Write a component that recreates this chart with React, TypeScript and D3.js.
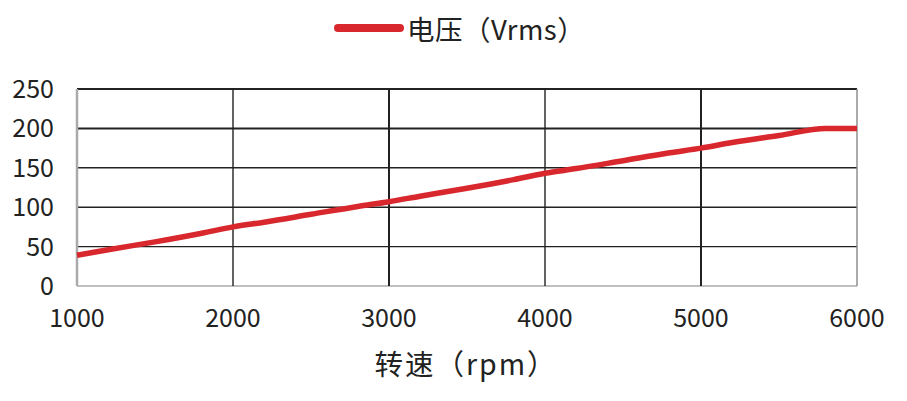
import React from 'react';
import * as d3 from 'd3';
import { useRef, useEffect } from 'react';

const speeds = [1000, 1200, 1500, 1800, 2000, 2200, 2500, 2800, 3000, 3200, 3500, 3800, 4000, 4200, 4500, 4800, 5000, 5200, 5500, 5800, 6000];
const voltage = [39, 46, 56, 67, 75, 81, 91, 101, 107, 114, 124, 135, 143, 149, 159, 169, 175, 182, 191, 200, 200];
const xTicks = [1000, 2000, 3000, 4000, 5000, 6000];
const yTicks = [0, 50, 100, 150, 200, 250];
const seriesName = '电压（Vrms）';
const xTitle = '转速（rpm）';

const W = 907;
const H = 401;
const font = '"Noto Sans CJK SC", "Noto Sans", sans-serif';

function Chart() {
  const root = useRef<SVGSVGElement>(null);

  useEffect(() => {
    const svg = d3.select(root.current);
    svg.selectAll('*').remove();

    const x = d3.scaleLinear().domain([1000, 6000]).range([77, 857]);
    const y = d3.scaleLinear().domain([0, 250]).range([286, 89]);

    const grid = svg.append('g');
    yTicks.forEach(t => {
      grid.append('line')
        .attr('x1', x(1000)).attr('x2', x(6000))
        .attr('y1', y(t)).attr('y2', y(t))
        .attr('stroke', t === 0 ? '#aaa' : '#222')
        .attr('stroke-width', t === 250 || t === 200 ? 2 : 1.4);
    });
    xTicks.forEach(t => {
      grid.append('line')
        .attr('x1', x(t)).attr('x2', x(t))
        .attr('y1', y(0)).attr('y2', y(250))
        .attr('stroke', t === 1000 ? '#aaa' : t === 6000 ? '#888' : '#222')
        .attr('stroke-width', t === 1000 ? 2.5 : t === 3000 || t === 5000 ? 2 : 1.4);
    });

    svg.append('g')
      .selectAll('text')
      .data(yTicks)
      .join('text')
      .attr('x', 54)
      .attr('y', d => y(d) + 9)
      .attr('text-anchor', 'end')
      .attr('font-size', 25)
      .attr('font-family', font)
      .attr('fill', '#222')
      .text(d => d);

    svg.append('g')
      .selectAll('text')
      .data(xTicks)
      .join('text')
      .attr('x', d => x(d))
      .attr('y', 327)
      .attr('text-anchor', 'middle')
      .attr('font-size', 25)
      .attr('font-family', font)
      .attr('fill', '#222')
      .text(d => d);

    const line = d3.line<number>()
      .x((d, i) => x(speeds[i]))
      .y(d => y(d))
      .curve(d3.curveMonotoneX);

    svg.append('path')
      .datum(voltage)
      .attr('fill', 'none')
      .attr('stroke', '#d9272e')
      .attr('stroke-width', 5.5)
      .attr('stroke-linejoin', 'round')
      .attr('d', line);

    // legend
    svg.append('line')
      .attr('x1', 338).attr('x2', 400)
      .attr('y1', 28).attr('y2', 28)
      .attr('stroke', '#d9272e')
      .attr('stroke-width', 8)
      .attr('stroke-linecap', 'round');
    svg.append('text')
      .attr('x', 407)
      .attr('y', 40)
      .attr('font-size', 27.5)
      .attr('font-family', font)
      .attr('letter-spacing', 0.5)
      .attr('fill', '#222')
      .text(seriesName);

    svg.append('text')
      .attr('x', 466)
      .attr('y', 375)
      .attr('text-anchor', 'middle')
      .attr('font-size', 28.5)
      .attr('font-family', font)
      .attr('letter-spacing', 2)
      .attr('fill', '#222')
      .text(xTitle);
  }, []);

  return (
    <svg ref={root} width={W} height={H} style={{ position: 'absolute', left: 0, top: 0, background: '#fff' }} />
  );
}

export default function App() {
  return <Chart />;
}
